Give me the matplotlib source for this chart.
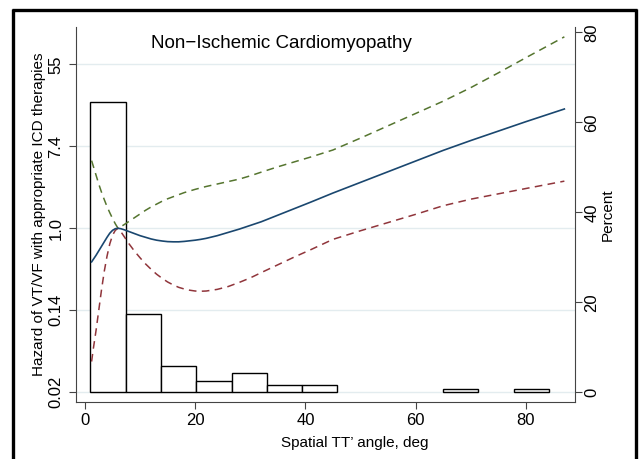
import numpy as np
import matplotlib
matplotlib.use("Agg")
import matplotlib.pyplot as plt
from matplotlib.lines import Line2D

plt.rcParams['font.family'] = ['Liberation Sans', 'DejaVu Sans']

# ---------------- data ----------------
# spline curve of log hazard ratio vs spatial TT' angle (deg)
angle = [1.2, 1.5, 2, 2.5, 3, 3.5, 4, 4.5, 5, 5.5, 6, 6.5, 7, 8, 9, 10, 11, 12,
         13, 14, 15, 16, 17, 18, 19, 20, 21, 22, 24, 26, 28, 30, 32, 35, 38,
         41, 45, 50, 55, 60, 65, 70, 75, 80, 87]
log_hr = [-0.82, -0.76, -0.66, -0.55, -0.44, -0.33, -0.22, -0.12, -0.05, -0.01,
          0.0, -0.01, -0.03, -0.08, -0.13, -0.18, -0.22, -0.26,
          -0.29, -0.31, -0.325, -0.33, -0.33, -0.32, -0.305, -0.29, -0.27,
          -0.245, -0.18, -0.10, -0.02, 0.07, 0.16, 0.32, 0.48,
          0.64, 0.86, 1.12, 1.38, 1.64, 1.90, 2.14, 2.37, 2.60, 2.91]
log_hr_upper = [1.65, 1.52, 1.30, 1.08, 0.88, 0.70, 0.53, 0.38, 0.24, 0.11,
                0.0, 0.04, 0.08, 0.17, 0.26, 0.35, 0.44, 0.52,
                0.59, 0.66, 0.72, 0.77, 0.82, 0.87, 0.91, 0.95, 0.985,
                1.02, 1.08, 1.14, 1.20, 1.28, 1.37, 1.50, 1.62,
                1.74, 1.91, 2.20, 2.50, 2.80, 3.10, 3.43, 3.79, 4.16, 4.67]
log_hr_lower = [-3.25, -2.95, -2.50, -2.00, -1.50, -1.05, -0.68, -0.38, -0.17, -0.05,
                0.0, -0.08, -0.18, -0.38, -0.56, -0.72, -0.87, -1.00,
                -1.12, -1.22, -1.31, -1.38, -1.44, -1.48, -1.51, -1.53, -1.535,
                -1.53, -1.49, -1.42, -1.32, -1.21, -1.08, -0.89, -0.70,
                -0.52, -0.27, -0.06, 0.14, 0.34, 0.55, 0.71, 0.84, 0.97, 1.15]

# histogram of the angle distribution (percent)
bin_edges = [1.0, 7.4, 13.8, 20.2, 26.6, 33.0, 39.4, 45.8, 52.2, 58.6, 65.0,
             71.4, 77.8, 84.2]
bin_percent = [64.5, 17.5, 5.9, 2.6, 4.3, 1.7, 1.7, 0, 0, 0, 0.8, 0, 0.8]

# left axis: log hazard positions and their hazard-ratio labels
hr_tick_pos = [-4, -2, 0, 2, 4]
hr_tick_labels = ['0.02', '0.14', '1.0', '7.4', '55']
pct_ticks = [0, 20, 40, 60, 80]
x_ticks = [0, 20, 40, 60, 80]

title = 'Non\u2212Ischemic Cardiomyopathy'
xlabel = "Spatial TT\u2019 angle, deg"
ylabel = 'Hazard of VT/VF with appropriate ICD therapies'
y2label = 'Percent'

# ---------------- figure ----------------
W, H = 640, 459
fig = plt.figure(figsize=(W / 100, H / 100), dpi=100)
fig.patch.set_facecolor('white')


def fx(px):
    return px / W


def fy(py):
    return 1 - py / H


L, R, T, B = 76, 574.5, 27, 402
ax = fig.add_axes([fx(L), fy(B), fx(R) - fx(L), fy(T) - fy(B)])
ax2 = ax.twinx()
ax.set_zorder(ax2.get_zorder() + 1)
ax.patch.set_visible(False)
ax2.patch.set_facecolor('white')

ax.set_xlim(-1.63, 88.84)
ax.set_ylim(-4.237, 4.91)
ax2.set_ylim(-2.156, 81.18)

# gridlines (behind histogram)
for t in hr_tick_pos:
    ax2.add_line(Line2D([0, 1], [t, t], transform=ax.get_yaxis_transform(),
                        color='#e3ecef', lw=1.0, zorder=0.5))

# histogram
widths = np.diff(bin_edges)
for left, w, p in zip(bin_edges[:-1], widths, bin_percent):
    if p > 0:
        ax2.bar(left, p, width=w, align='edge', facecolor='white',
                edgecolor='black', linewidth=1.0, zorder=2)

# curves
ls = (0, (5, 3.5))
ax.plot(angle, log_hr_upper, color='#55752f', lw=1.1, linestyle=ls, zorder=3)
ax.plot(angle, log_hr_lower, color='#90353b', lw=1.1, linestyle=ls, zorder=3)
ax.plot(angle, log_hr, color='#1a476f', lw=1.2, zorder=4)

# spines
for a in (ax, ax2):
    a.spines['top'].set_visible(False)
ax.spines['right'].set_visible(False)
ax2.spines['left'].set_visible(False)
ax2.spines['bottom'].set_visible(False)
for s in (ax.spines['left'], ax.spines['bottom'], ax2.spines['right']):
    s.set_color('#444444')
    s.set_linewidth(0.8)

# ticks
tick_fs = 12
ax.set_xticks(x_ticks)
ax.set_xticklabels([str(v) for v in x_ticks])
ax.set_yticks(hr_tick_pos)
ax.set_yticklabels(hr_tick_labels)
ax2.set_yticks(pct_ticks)
ax2.set_yticklabels([str(v) for v in pct_ticks])

ax.tick_params(axis='x', length=5, width=0.8, color='#444444', labelsize=tick_fs, pad=3)
ax.tick_params(axis='y', length=5, width=0.8, color='#444444', labelsize=tick_fs,
               pad=4, labelrotation=90)
ax2.tick_params(axis='y', length=5, width=0.8, color='#444444', labelsize=tick_fs,
                pad=2, labelrotation=90)
for lab in ax.get_yticklabels():
    lab.set_va('center')
for lab in ax2.get_yticklabels():
    lab.set_va('center')

# labels
lab_fs = 11
ax.set_xlabel(xlabel, fontsize=lab_fs, va='center')
ax.xaxis.set_label_coords((355 - L) / (R - L), (B - 443) / (B - T))
ax.set_ylabel(ylabel, fontsize=lab_fs, va='center')
ax.yaxis.set_label_coords((39 - L) / (R - L), 0.5)
ax2.set_ylabel(y2label, fontsize=lab_fs, va='center')
ax2.yaxis.set_label_coords((608 - L) / (R - L), 0.5)

fig.text(fx(281.7), fy(44), title, ha='center', va='center', fontsize=13.5)

# outer frame (open at the bottom, as in the reference crop)
frame_kw = dict(color='black', lw=2.4, transform=fig.transFigure, solid_capstyle='butt')
fig.add_artist(Line2D([fx(13), fx(13)], [fy(9), fy(470)], **frame_kw))
fig.add_artist(Line2D([fx(12), fx(637)], [fy(10), fy(10)], **frame_kw))
fig.add_artist(Line2D([fx(636), fx(636)], [fy(9), fy(470)], **frame_kw))

fig.savefig('out.png', dpi=100, facecolor='white')
